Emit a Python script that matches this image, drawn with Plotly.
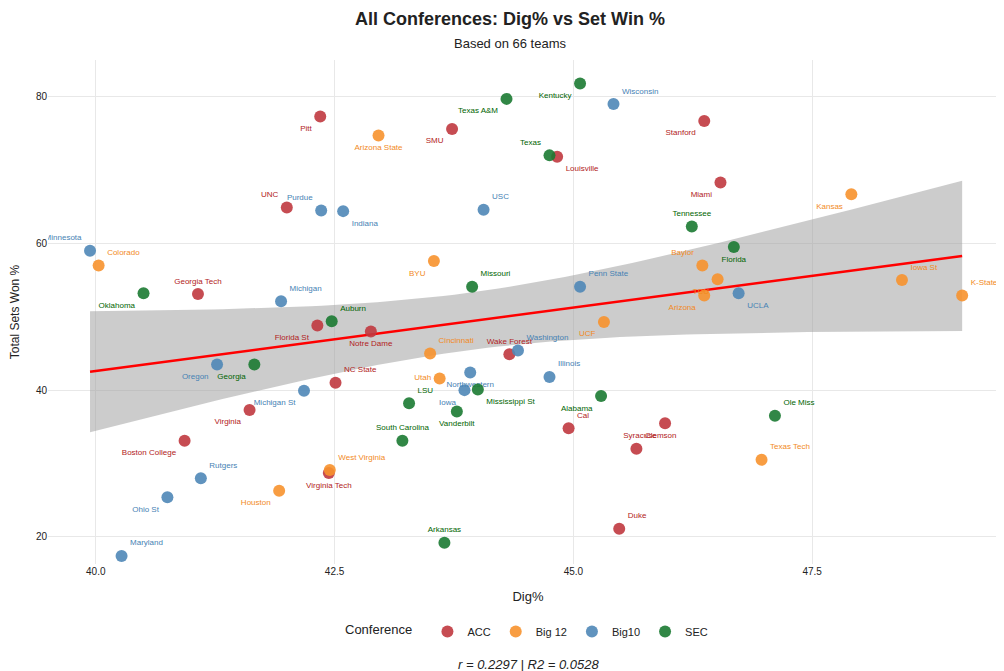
import numpy as np
import plotly.graph_objects as go

# values
acc_team = ["Pitt", "SMU", "Louisville", "Stanford", "Miami", "UNC", "Georgia Tech", "Florida St",
            "Notre Dame", "NC State", "Wake Forest", "Virginia", "Boston College", "Cal", "Clemson",
            "Syracuse", "Virginia Tech", "Duke"]
acc_dig = [42.35, 43.73, 44.83, 46.37, 46.54, 42.0, 41.07, 42.32, 42.88, 42.51, 44.33, 41.61, 40.93,
           44.95, 45.66, 45.96, 42.44, 45.48]
acc_win = [77.3, 75.6, 71.8, 76.7, 68.3, 64.9, 53.1, 48.8, 48.0, 41.0, 44.9, 37.3, 33.1, 34.8, 32.0,
           35.5, 28.7, 21.1]
acc_pos = ["bottom left", "bottom left", "bottom right", "bottom left", "bottom left", "top left",
           "top center", "bottom left", "bottom center", "top right", "top center", "bottom left",
           "bottom left", "top right", "top right", "bottom left", "bottom center", "top right"]

b12_team = ["Arizona State", "Kansas", "Colorado", "BYU", "Baylor", "TCU", "Arizona", "Iowa St", "K-State",
            "UCF", "Cincinnati", "Utah", "West Virginia", "Houston", "Texas Tech"]
b12_dig = [42.96, 47.91, 40.03, 43.54, 46.35, 46.51, 46.37, 48.44, 49.07, 45.32, 43.5, 43.6, 42.45,
           41.92, 46.97]
b12_win = [74.7, 66.7, 57.0, 57.6, 57.0, 55.1, 52.9, 55.0, 52.9, 49.3, 45.0, 41.6, 29.1, 26.3, 30.5]
b12_pos = ["bottom center", "bottom left", "top right", "bottom left", "top left", "bottom left",
           "bottom left", "top right", "top right", "bottom left", "top right", "middle left",
           "top right", "bottom left", "top right"]

b10_team = ["Wisconsin", "USC", "Purdue", "Indiana", "Minnesota", "Michigan", "Penn State", "UCLA",
            "Washington", "Oregon", "Northwestern", "Illinois", "Iowa", "Michigan St", "Rutgers",
            "Ohio St", "Maryland"]
b10_dig = [45.42, 44.06, 42.36, 42.59, 39.94, 41.94, 45.07, 46.73, 44.42, 41.27, 43.92, 44.75, 43.86,
           42.18, 41.1, 40.75, 40.27]
b10_win = [79.0, 64.6, 64.5, 64.4, 59.0, 52.1, 54.1, 53.2, 45.4, 43.5, 42.4, 41.8, 40.0, 39.9, 28.0,
           25.4, 17.4]
b10_pos = ["top right", "top right", "top left", "bottom right", "top left", "top right", "top right",
           "bottom right", "top right", "bottom left", "bottom center", "top right", "bottom left",
           "bottom left", "top right", "bottom left", "top right"]

sec_team = ["Kentucky", "Texas A&M", "Texas", "Tennessee", "Florida", "Oklahoma", "Missouri", "Auburn",
            "Georgia", "Mississippi St", "LSU", "Vanderbilt", "Alabama", "Ole Miss", "South Carolina",
            "Arkansas"]
sec_dig = [45.07, 44.3, 44.75, 46.24, 46.68, 40.5, 43.94, 42.47, 41.66, 44.0, 43.28, 43.78, 45.29,
           47.11, 43.21, 43.65]
sec_win = [81.8, 79.7, 72.0, 62.3, 59.5, 53.2, 54.1, 49.4, 43.5, 40.1, 38.2, 37.1, 39.2, 36.5, 33.1, 19.2]
sec_pos = ["bottom left", "bottom left", "top left", "top center", "bottom center", "bottom left",
           "top right", "top right", "bottom left", "bottom right", "top right", "bottom center",
           "bottom left", "top right", "top center", "top center"]

confs = [
    ("ACC", acc_team, acc_dig, acc_win, acc_pos, "#C0393F", "#B22222"),
    ("Big 12", b12_team, b12_dig, b12_win, b12_pos, "#F7922E", "#F28A1E"),
    ("Big10", b10_team, b10_dig, b10_win, b10_pos, "#4F87B7", "#4682B4"),
    ("SEC", sec_team, sec_dig, sec_win, sec_pos, "#1B7A32", "#006400"),
]

# regression + 95% band
x_all = np.array(acc_dig + b12_dig + b10_dig + sec_dig)
y_all = np.array(acc_win + b12_win + b10_win + sec_win)
n = len(x_all)
slope, icpt = np.polyfit(x_all, y_all, 1)
resid = y_all - (slope * x_all + icpt)
s = np.sqrt((resid ** 2).sum() / (n - 2))
xs = np.linspace(x_all.min(), x_all.max(), 80)
ys = slope * xs + icpt
se = s * np.sqrt(1 / n + (xs - x_all.mean()) ** 2 / ((x_all - x_all.mean()) ** 2).sum())
t = 1.998
r = np.corrcoef(x_all, y_all)[0, 1]

fig = go.Figure()
fig.add_trace(go.Scatter(x=np.concatenate([xs, xs[::-1]]),
                         y=np.concatenate([ys + t * se, (ys - t * se)[::-1]]),
                         fill="toself", fillcolor="rgba(153,153,153,0.5)", line=dict(width=0),
                         showlegend=False, hoverinfo="skip"))
fig.add_trace(go.Scatter(x=xs, y=ys, mode="lines", line=dict(color="red", width=2.5),
                         showlegend=False, hoverinfo="skip"))

for name, teams, dig, win, pos, col, tcol in confs:
    fig.add_trace(go.Scatter(x=dig, y=win, mode="markers+text", name=name, text=teams,
                             textposition=pos, textfont=dict(size=8, color=tcol),
                             marker=dict(size=12, color=col, opacity=0.9)))

fig.update_layout(
    width=1004, height=671, template="plotly_white",
    font=dict(family="Liberation Sans, Arial", color="#222"),
    title=dict(text="<b>All Conferences: Dig% vs Set Win %</b><br><span style='font-size:13px'>Based on 66 teams</span>",
               x=0.5, xanchor="center", y=0.975, font=dict(size=18)),
    margin=dict(l=34, r=4, t=52, b=115),
    xaxis=dict(title=dict(text="Dig%", font=dict(size=13)), range=[39.5, 49.55],
               tickvals=[40, 42.5, 45, 47.5], ticktext=["40.0", "42.5", "45.0", "47.5"],
               tickfont=dict(size=10), showline=False, zeroline=False, gridcolor="#e8e8e8"),
    yaxis=dict(title=dict(text="Total Sets Won %", font=dict(size=12)), range=[16.3, 85],
               tickvals=[20, 40, 60, 80], tickfont=dict(size=10), zeroline=False, gridcolor="#e8e8e8"),
    legend=dict(orientation="h", x=0.5, xanchor="center", y=-0.105, yanchor="top",
                title=dict(text="Conference  ", font=dict(size=13)), font=dict(size=11)),
    annotations=[dict(text=f"<i>r = {r:.4f} | R2 = {r*r:.4f}</i>", x=0.5, y=-0.18, xref="paper",
                      yref="paper", showarrow=False, yanchor="top", font=dict(size=13))],
)

fig.write_html("out.html")
